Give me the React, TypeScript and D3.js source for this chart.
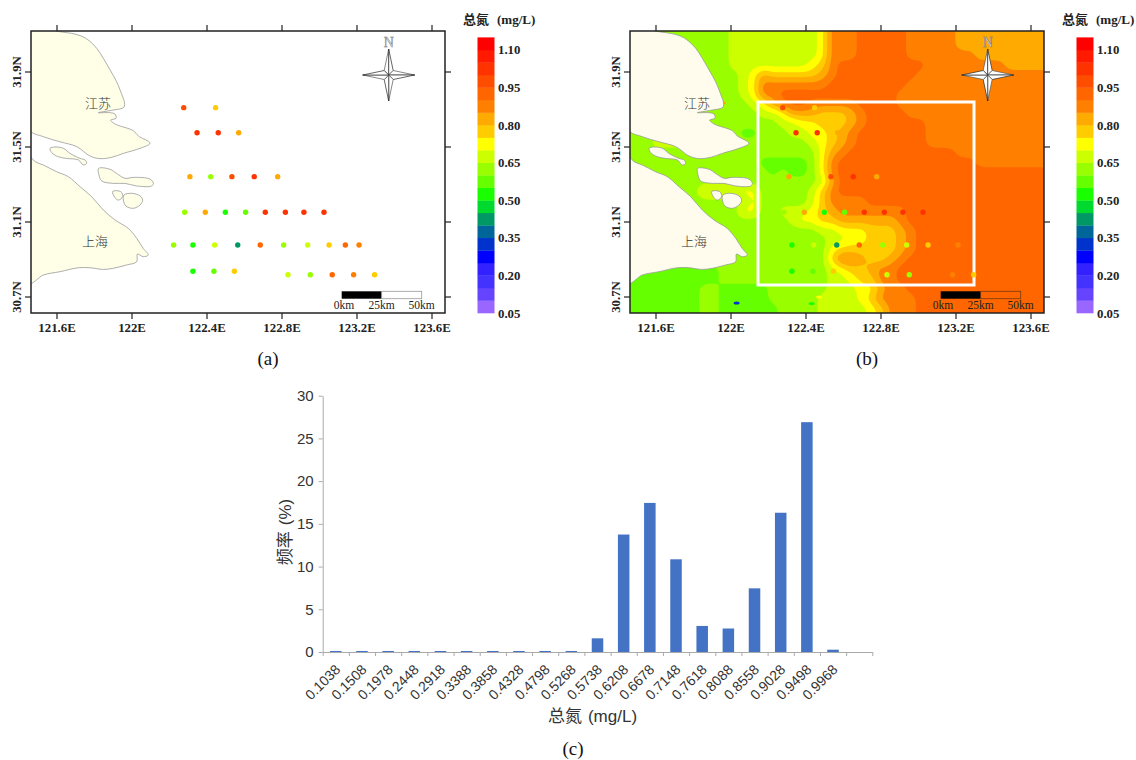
import React, { useEffect, useRef } from 'react';
import * as d3 from 'd3';

// colour bar, bottom band first (0.05 wide each)
const bandColors = [
  '#9966FF', '#6644FF', '#4433FF', '#3322FF', '#0000FF', '#0033CC', '#006699', '#009966',
  '#00D92E', '#19FF00', '#66FF00', '#99FF00', '#CCFF00', '#FFFF00', '#FFCC00', '#FFAA00',
  '#FF8000', '#FF6600', '#FF4D00', '#FF3300', '#FF1A00', '#FF0000',
];
const bandEdges = d3.range(0, 23).map((i) => +(0.05 + i * 0.05).toFixed(2));
const legendLabels = [0.05, 0.2, 0.35, 0.5, 0.65, 0.8, 0.95, 1.1];

const lonTicks = [121.6, 122, 122.4, 122.8, 123.2, 123.6];
const latTicks = [30.7, 31.1, 31.5, 31.9];

// stations: lon, lat, total nitrogen
const stations: [number, number, number][] = [
  [122.276, 31.71, 0.97], [122.446, 31.71, 0.77],
  [122.347, 31.576, 1.02], [122.46, 31.576, 1.02], [122.569, 31.576, 0.83],
  [122.309, 31.342, 0.83], [122.42, 31.342, 0.62], [122.533, 31.342, 0.98], [122.652, 31.342, 1.02], [122.777, 31.342, 0.84],
  [122.281, 31.152, 0.63], [122.391, 31.152, 0.83], [122.498, 31.152, 0.54], [122.606, 31.152, 0.58],
  [122.711, 31.152, 1.0], [122.818, 31.152, 1.0], [122.917, 31.152, 1.0], [123.024, 31.152, 1.0],
  [122.222, 30.977, 0.63], [122.325, 30.977, 0.52], [122.441, 30.977, 0.67], [122.564, 30.977, 0.42], [122.684, 30.977, 0.92],
  [122.809, 30.977, 0.62], [122.937, 30.977, 0.65], [123.051, 30.977, 0.77], [123.138, 30.977, 0.92], [123.211, 30.977, 0.87],
  [122.325, 30.837, 0.52], [122.437, 30.837, 0.55], [122.546, 30.837, 0.78],
  [122.832, 30.819, 0.67], [122.951, 30.819, 0.62], [123.068, 30.819, 0.93], [123.182, 30.819, 0.87], [123.294, 30.819, 0.77],
];

const jiangsu: [number, number][] = [
  [121.45, 32.115], [121.634, 32.112], [121.714, 32.097], [121.762, 32.074], [121.812, 32.026], [121.847, 31.973],
  [121.883, 31.911], [121.918, 31.848], [121.95, 31.768], [121.959, 31.742], [121.957, 31.712], [121.9, 31.697],
  [121.82, 31.683], [121.883, 31.683], [121.909, 31.676], [121.915, 31.653], [121.886, 31.644], [121.909, 31.623],
  [122.007, 31.587], [122.034, 31.559], [122.096, 31.52], [122.043, 31.493], [121.954, 31.466], [121.892, 31.445],
  [121.829, 31.438], [121.776, 31.452], [121.705, 31.502], [121.616, 31.528], [121.527, 31.555], [121.45, 31.595],
];
const shanghai: [number, number][] = [
  [121.45, 31.452], [121.483, 31.422], [121.527, 31.404], [121.598, 31.368], [121.66, 31.342], [121.723, 31.288],
  [121.785, 31.235], [121.847, 31.164], [121.909, 31.111], [121.98, 31.066], [122.025, 31.013], [122.06, 30.959],
  [122.087, 30.924], [122.06, 30.915], [122.029, 30.929], [122.025, 30.888], [121.972, 30.871], [121.9, 30.853],
  [121.847, 30.847], [121.776, 30.856], [121.714, 30.856], [121.616, 30.835], [121.527, 30.817], [121.45, 30.772],
];
const island1: [number, number][] = [
  [121.563, 31.493], [121.589, 31.5], [121.634, 31.493], [121.669, 31.466], [121.723, 31.439], [121.749, 31.431],
  [121.758, 31.413], [121.74, 31.404], [121.714, 31.431], [121.652, 31.439], [121.607, 31.448], [121.572, 31.47],
];
const island2: [number, number][] = [
  [121.822, 31.386], [121.883, 31.381], [121.918, 31.359], [121.963, 31.333], [122.007, 31.338], [122.096, 31.329],
  [122.114, 31.306], [122.105, 31.292], [122.025, 31.292], [121.963, 31.306], [121.9, 31.306], [121.838, 31.319], [121.824, 31.351],
];
const island3: [number, number][] = [
  [121.897, 31.263], [121.94, 31.262], [121.95, 31.235], [121.927, 31.217], [121.909, 31.23],
];
const island4: [number, number][] = [
  [121.957, 31.244], [121.998, 31.253], [122.043, 31.239], [122.057, 31.217], [122.043, 31.191], [122.007, 31.173], [121.968, 31.185], [121.954, 31.217],
];
const landShapes = [jiangsu, shanghai, island1, island2, island3, island4];
const placeNames: [string, number, number][] = [['江苏', 121.819, 31.735], ['上海', 121.803, 31.004]];

// remote sensing field of panel b, one digit per cell: value = 0.525 + 0.05 * digit
const fieldRows = [
  '2222222222 3333333334 7778888877 7776666666 66',
  '2222222222 3333333334 7778888877 7776666666 66',
  '2222222222 3333333334 7778888877 7777766666 66',
  '2222222222 3333333345 7888888888 7777777766 66',
  '2222222222 2346555556 7888888887 7777777777 77',
  '2222222222 2347777777 8888888877 7777777777 77',
  '2222222222 2347788888 8888888777 7777777777 77',
  '2222222222 2234678877 7778888777 7777777777 77',
  '2222222222 2223346665 5567888877 7777777777 77',
  '2222222222 2222233445 5567888888 7777777777 77',
  '2222222222 2112223344 5678888888 7777777777 77',
  '2233332222 2222222234 5678888888 7777777777 77',
  '2222222222 2222222224 6788888888 8887777777 77',
  '2222222222 2221111124 7888888888 8888877777 77',
  '2222212222 2222121124 7888888888 8888888888 88',
  '2222222222 2222222223 6888888888 8888888888 88',
  '2222222444 4442222235 7888888888 8888888888 88',
  '2222222222 2242222235 7777888888 8888888888 88',
  '2222222222 2442233345 6777777788 8888888888 88',
  '2222222222 2222223445 5666666788 8888888888 88',
  '2222222222 2222222223 3444555678 8888888888 88',
  '2222222222 2222222222 3344555678 8888888888 88',
  '2222222222 2222222222 4555555678 8888888888 88',
  '2222222222 2222222222 5776556788 8888888888 88',
  '1111111112 2222222222 3455677888 8888888888 88',
  '1111111112 2222222222 3345577888 8888888888 88',
  '1111111221 1111222222 3334467788 8888888888 88',
  '1111111221 1111222223 3334577778 8888888888 88',
  '1111111221 1111122223 3333457778 8888888888 88',
];
const fieldLevels = [0.55, 0.6, 0.65, 0.7, 0.75, 0.8, 0.85, 0.9, 0.95];
// small patches the grid is too coarse for: lon, lat, value
const fieldSpots: [number, number, number][] = [
  [122.03, 30.668, 0.32], [122.43, 30.665, 0.52], [121.957, 31.735, 0.8], [122.47, 30.7, 0.72],
];

// histogram, panel c
const binLabels = ['0.1038', '0.1508', '0.1978', '0.2448', '0.2918', '0.3388', '0.3858', '0.4328', '0.4798', '0.5268',
  '0.5738', '0.6208', '0.6678', '0.7148', '0.7618', '0.8088', '0.8558', '0.9028', '0.9498', '0.9968', ''];
const binFreq = [0.12, 0.12, 0.12, 0.12, 0.12, 0.12, 0.12, 0.12, 0.12, 0.12,
  1.6, 13.75, 17.45, 10.85, 3.05, 2.75, 7.45, 16.3, 26.9, 0.27, 0];

const serif = '"Liberation Serif", serif';
const cjk = '"Noto Sans CJK SC", sans-serif';
const sans = '"Liberation Sans", Arial, sans-serif';

const colorOf = d3.scaleThreshold<number, string>().domain(bandEdges.slice(1, -1)).range(bandColors);

const lonPx = d3.scaleLinear().domain([121.6, 123.6]).range([57, 432]);
const latPx = d3.scaleLinear().domain([31.9, 30.7]).range([72, 297]);

const frame = { left: 31, right: 445, top: 31, bottom: 313 };
const kmPx = d3.scaleLinear().domain([0, 50]).range([0, 80]);

const Compass = ({ x, y }: { x: number; y: number }) => (
  <g transform={`translate(${x},${y})`}>
    {[0, 90, 180, 270].map((rot) => (
      <g key={rot} transform={`rotate(${rot})`}>
        <path d="M0,0 L-4.5,-4.5 L0,-26 Z" fill="#fff" stroke="#555" strokeWidth={0.7} />
        <path d="M0,0 L4.5,-4.5 L0,-26 Z" fill="#fff" stroke="#222" strokeWidth={0.7} />
      </g>
    ))}
    <text x={0} y={-28} textAnchor="middle" fontFamily={serif} fontSize={14} fill="#ddd" stroke="#666" strokeWidth={0.4}>N</text>
  </g>
);

const MapPanel = ({ dx, withField, clipId }: { dx: number; withField: boolean; clipId: string }) => {
  const X = (lon: number) => lonPx(lon) + dx;
  const Y = (lat: number) => latPx(lat);
  const landLine = d3.line<[number, number]>().x((d) => X(d[0])).y((d) => Y(d[1])).curve(d3.curveCatmullRomClosed.alpha(0.5));

  const w = frame.right - frame.left;
  const h = frame.bottom - frame.top;
  const rows = fieldRows.map((r) => r.replace(/ /g, ''));
  // repeat every cell 3x and blur, only so the contour edges come out rounded
  const k = 3;
  const nx = rows[0].length * k;
  const ny = rows.length * k;
  const values: number[] = [];
  for (let j = 0; j < ny; j++) {
    for (let i = 0; i < nx; i++) {
      values.push(0.525 + 0.05 * +rows[Math.floor(j / k)][Math.floor(i / k)]);
    }
  }
  d3.blur2({ data: values, width: nx, height: ny }, 1);
  const contours = d3.contours().size([nx, ny]).thresholds(fieldLevels)(values);
  const gridPath = d3.geoPath(d3.geoTransform({
    point(x: number, y: number) {
      (this as any).stream.point(frame.left + dx + (x / nx) * w, frame.top + (y / ny) * h);
    },
  }));

  const sbLeft = 341.7 + dx;
  const sbTop = 291.3;

  return (
    <g>
      <clipPath id={clipId}>
        <rect x={frame.left + dx} y={frame.top} width={w} height={h} />
      </clipPath>
      <g clipPath={`url(#${clipId})`}>
        {withField && (
          <g>
            <rect x={frame.left + dx} y={frame.top} width={w} height={h} fill={bandColors[9]} />
            {contours.map((c) => (
              <path key={c.value} d={gridPath(c as any) || ''} fill={colorOf(c.value + 0.001)} />
            ))}
            {fieldSpots.map((s) => (
              <ellipse key={s[0]} cx={X(s[0])} cy={Y(s[1])} rx={3} ry={1.6} fill={colorOf(s[2])} />
            ))}
          </g>
        )}
        {landShapes.map((shape, i) => (
          <path key={i} d={landLine(shape) || ''} fill={withField ? '#FFFCEE' : '#FFFFE8'} stroke="#999" strokeWidth={0.8} />
        ))}
        {placeNames.map((p) => (
          <text key={p[0]} x={X(p[1])} y={Y(p[2])} textAnchor="middle" dominantBaseline="central" fontFamily={cjk} fontWeight={300} fontSize={13} fill="#333">{p[0]}</text>
        ))}
        {withField && (
          <rect x={X(122.144)} y={Y(31.74)} width={X(123.296) - X(122.144)} height={Y(30.764) - Y(31.74)} fill="none" stroke="#fff" strokeWidth={3} />
        )}
        {stations.map((s) => (
          <circle key={`${s[0]},${s[1]}`} cx={X(s[0])} cy={Y(s[1])} r={2.7} fill={colorOf(s[2])} />
        ))}
      </g>
      <rect x={frame.left + dx} y={frame.top} width={w} height={h} fill="none" stroke="#222" strokeWidth={1.5} />
      {lonTicks.map((t) => (
        <g key={t}>
          <line x1={X(t)} x2={X(t)} y1={frame.top} y2={frame.top - 6} stroke="#222" strokeWidth={1.2} />
          <line x1={X(t)} x2={X(t)} y1={frame.bottom} y2={frame.bottom + 6} stroke="#222" strokeWidth={1.2} />
          <text x={X(t)} y={332} textAnchor="middle" fontFamily={serif} fontWeight="bold" fontSize={12.8} fill="#222">{t}E</text>
        </g>
      ))}
      {latTicks.map((t) => (
        <g key={t}>
          <line x1={frame.left + dx - 6} x2={frame.left + dx} y1={Y(t)} y2={Y(t)} stroke="#222" strokeWidth={1.2} />
          <line x1={frame.right + dx} x2={frame.right + dx + 6} y1={Y(t)} y2={Y(t)} stroke="#222" strokeWidth={1.2} />
          <text transform={`translate(${21 + dx},${Y(t)}) rotate(-90)`} textAnchor="middle" fontFamily={serif} fontWeight="bold" fontSize={12.8} fill="#222">{t}N</text>
        </g>
      ))}
      <Compass x={388.7 + dx} y={75} />
      <rect x={sbLeft} y={sbTop} width={kmPx(25)} height={7.4} fill="#000" />
      <rect x={sbLeft + kmPx(25)} y={sbTop} width={kmPx(25)} height={7.4} fill={withField ? 'none' : '#fff'} stroke={withField ? '#7a3a10' : '#999'} strokeWidth={0.8} />
      {[0, 25, 50].map((km) => (
        <text key={km} x={sbLeft + kmPx(km) + (km === 0 ? 2.3 : 0)} y={308.5} textAnchor="middle" fontFamily={serif} fontSize={11.5} fill="#222">{km}km</text>
      ))}
    </g>
  );
};

const Legend = ({ dx }: { dx: number }) => {
  const y = d3.scaleLinear().domain([0.05, 1.15]).range([313, 37.4]);
  return (
    <g>
      <text x={463 + dx} y={24} fontWeight="bold" fontSize={13} fill="#222">
        <tspan fontFamily={cjk}>总氮</tspan>
        <tspan fontFamily={serif} dx={8}>(mg/L)</tspan>
      </text>
      {bandColors.map((c, i) => (
        <rect key={c} x={477.5 + dx} y={y(bandEdges[i + 1])} width={17} height={y(bandEdges[i]) - y(bandEdges[i + 1]) + 0.3} fill={c} />
      ))}
      {legendLabels.map((v) => (
        <text key={v} x={498 + dx} y={y(v) + 4.5} fontFamily={serif} fontWeight="bold" fontSize={12.8} fill="#222">{v.toFixed(2)}</text>
      ))}
    </g>
  );
};

const Histogram = () => {
  const left = 322.7;
  const right = 872.3;
  const base = 652;
  const top = 395.7;
  const x = d3.scaleBand().domain(binLabels).range([left, right]).paddingInner(0.56).paddingOuter(0.28);
  const edges = d3.scaleLinear().domain([0, binLabels.length]).range([left, right]);
  const y = d3.scaleLinear().domain([0, 30]).range([base, top]);
  const xRef = useRef<SVGGElement>(null);
  const yRef = useRef<SVGGElement>(null);

  useEffect(() => {
    const gx = d3.select(xRef.current as SVGGElement);
    gx.selectAll('*').remove();
    // ticks sit between the bars, so they come from a plain linear scale
    gx.call(d3.axisBottom(edges).tickValues(d3.range(0, binLabels.length + 1)).tickFormat(() => '').tickSize(4).tickSizeOuter(0));
    gx.selectAll('path,line').attr('stroke', '#aaa').attr('stroke-width', 1);
    gx.selectAll('.lab').data(binLabels).join('text')
      .attr('class', 'lab')
      .attr('transform', (d, i) => `translate(${edges(i + 0.5) + 2},${15}) rotate(-45)`)
      .attr('text-anchor', 'end')
      .attr('dominant-baseline', 'central')
      .attr('font-family', sans)
      .attr('font-size', 14)
      .attr('fill', '#333')
      .text((d) => d);

    const gy = d3.select(yRef.current as SVGGElement);
    gy.selectAll('*').remove();
    gy.call(d3.axisLeft(y).tickValues([0, 5, 10, 15, 20, 25, 30]).tickSize(4).tickSizeOuter(0).tickPadding(5));
    gy.selectAll('path,line').attr('stroke', '#aaa').attr('stroke-width', 1);
    gy.selectAll('text').attr('font-family', sans).attr('font-size', 15).attr('fill', '#333');
  }, []);

  return (
    <g>
      {binLabels.map((b, i) => (
        <rect key={i} x={x(b)} y={y(binFreq[i])} width={x.bandwidth()} height={base - y(binFreq[i])} fill="#4472C4" />
      ))}
      <g ref={xRef} transform={`translate(0,${base})`} />
      <g ref={yRef} transform={`translate(${left},0)`} />
      <text transform="translate(291,532) rotate(-90)" textAnchor="middle" fontSize={17} fill="#333">
        <tspan fontFamily={cjk}>频率</tspan>
        <tspan fontFamily={sans} dx={6}>(%)</tspan>
      </text>
      <text x={592.5} y={722} textAnchor="middle" fontSize={17} fill="#333">
        <tspan fontFamily={cjk}>总氮</tspan>
        <tspan fontFamily={sans} dx={6}>(mg/L)</tspan>
      </text>
    </g>
  );
};

export default function App() {
  return (
    <svg width={1136} height={760} style={{ position: 'absolute', left: 0, top: 0, background: '#fff' }}>
      <MapPanel dx={0} withField={false} clipId="clip-a" />
      <Legend dx={0} />
      <MapPanel dx={599} withField={true} clipId="clip-b" />
      <Legend dx={599} />
      <Histogram />
      <text x={268} y={365} textAnchor="middle" fontFamily={serif} fontSize={19} fill="#111">(a)</text>
      <text x={867} y={365} textAnchor="middle" fontFamily={serif} fontSize={19} fill="#111">(b)</text>
      <text x={573} y={755} textAnchor="middle" fontFamily={serif} fontSize={19} fill="#111">(c)</text>
    </svg>
  );
}
